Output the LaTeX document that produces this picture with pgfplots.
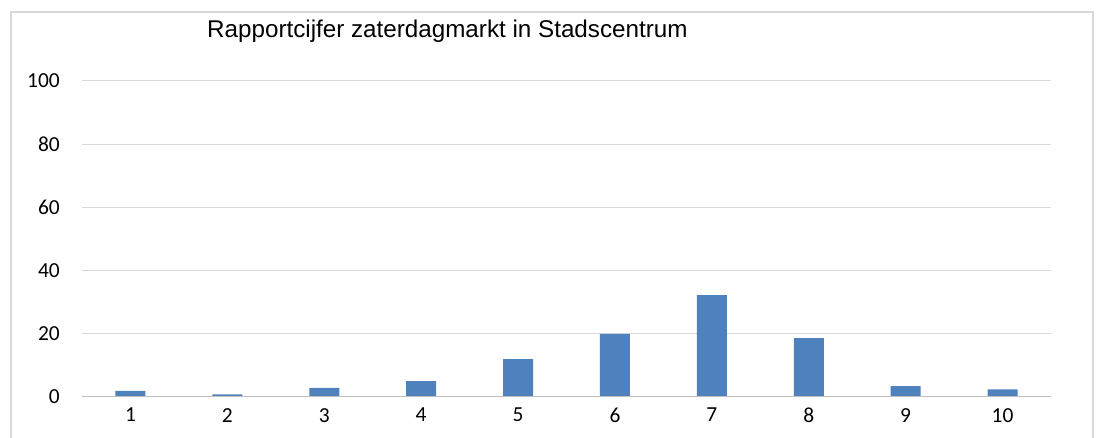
\documentclass[border=0pt]{standalone}
\usepackage{pgfplots}
\pgfplotsset{compat=1.18}
\usepackage{fontspec}
\setmainfont{Carlito}
\newfontfamily\arialfont{Liberation Sans}
\definecolor{barblue}{HTML}{4F81BD}
\definecolor{gridgray}{HTML}{D9D9D9}
\definecolor{axisgray}{HTML}{BFBFBF}
\begin{document}
\begin{tikzpicture}[x=1bp,y=1bp]
\useasboundingbox (0,0) rectangle (1101,438);
\draw[gridgray, line width=1.5bp] (11,-2) -- (11,426) -- (1093,426) -- (1093,-2);
\node[font=\arialfont\fontsize{24.3}{28}\selectfont, anchor=base west, inner sep=0pt] at (207,400.5) {Rapportcijfer zaterdagmarkt in Stadscentrum};
\begin{axis}[
  at={(82bp,41bp)}, anchor=south west,
  width=969bp, height=316bp, scale only axis,
  xmin=0.5, xmax=10.5, ymin=0, ymax=100,
  xtick={1,...,10}, ytick={0,20,...,100},
  axis line style={draw=none},
  major tick length=0pt,
  ymajorgrids, grid style={gridgray, line width=1bp},
  /pgf/number format/assume math mode=true,
  tick label style={font=\fontsize{21.5}{25}\selectfont, inner sep=0pt},
  yticklabel style={xshift=-22bp},
  xticklabel style={yshift=-11bp},
  ybar, bar width=30bp,
  clip=false,
]
\addplot[fill=barblue, draw=none] coordinates {(1,1.9) (2,0.8) (3,2.9) (4,5.0) (5,12.0) (6,20.0) (7,32.2) (8,18.6) (9,3.4) (10,2.4)};
\draw[axisgray, line width=1bp] (axis cs:0.5,0) -- (axis cs:10.5,0);
\end{axis}
\end{tikzpicture}
\end{document}
